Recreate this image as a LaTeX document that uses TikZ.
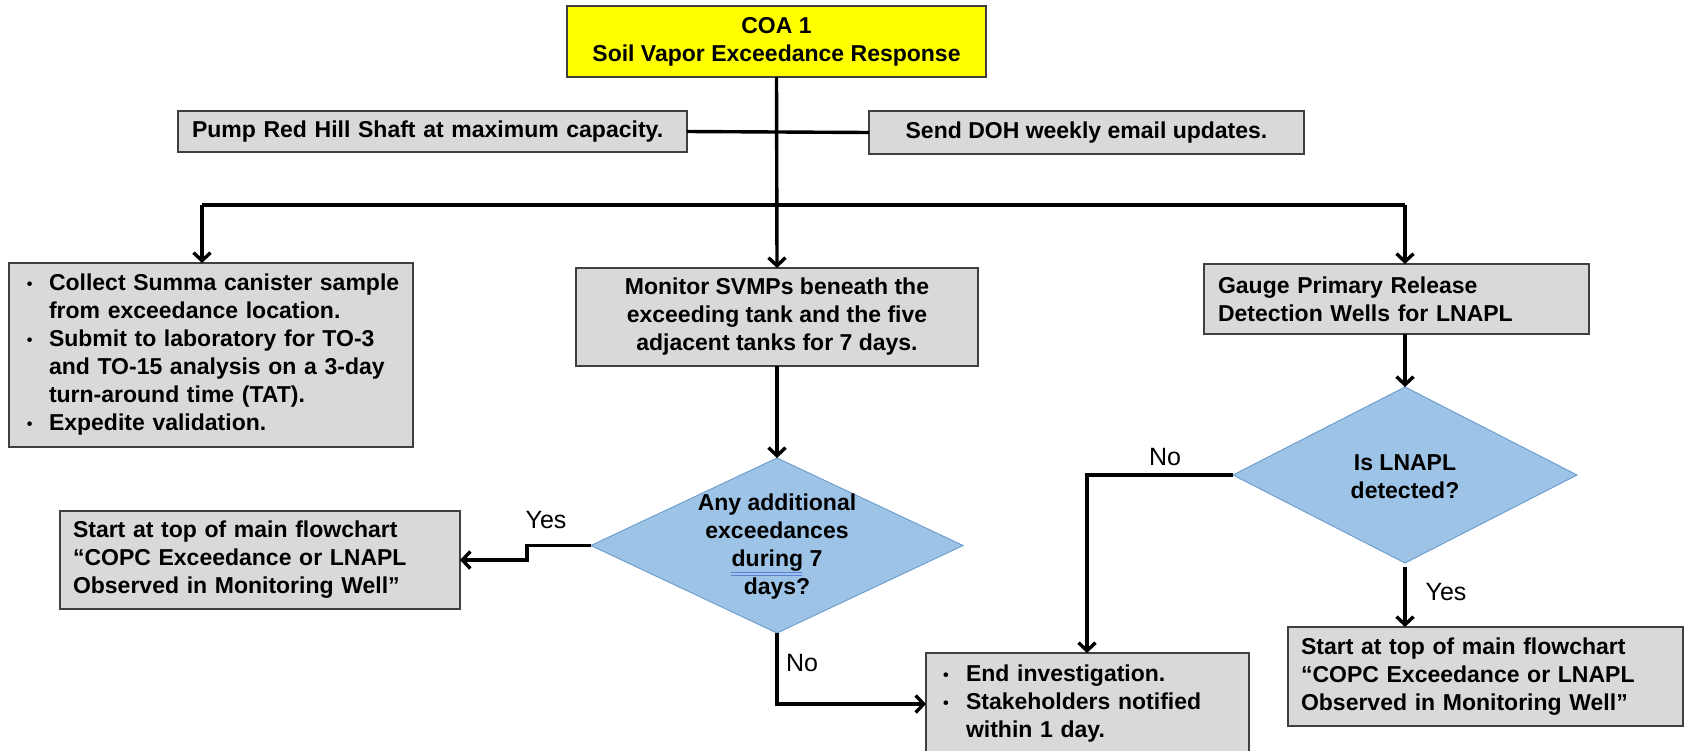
\documentclass[tikz,border=0pt]{standalone}
\usepackage{fontspec}
\usepackage{graphicx}
\setmainfont{Liberation Sans}
\usetikzlibrary{arrows.meta,shapes.geometric,calc}
\definecolor{boxgray}{HTML}{D9D9D9}
\definecolor{boxedge}{HTML}{404040}
\definecolor{dfill}{HTML}{9DC3E6}
\definecolor{dedge}{HTML}{6F9FD0}
\definecolor{coayellow}{HTML}{FFFF00}
\definecolor{squig}{HTML}{5B7FD6}
\newcommand{\bul}{\raisebox{1pt}{\scalebox{0.7}{•}}}
\begin{document}
\begin{tikzpicture}[x=1pt,y=-1pt,
  txt/.style={font=\fontsize{23}{28}\selectfont\bfseries},
  box/.style={txt, draw=boxedge, line width=1.5pt, fill=boxgray, anchor=north west,
    inner ysep=0pt, outer sep=0pt},
  lbox/.style={box, align=left},
  cbox/.style={box, align=center},
  decision/.style={diamond, draw=dedge, line width=1pt, fill=dfill, inner sep=0pt, outer sep=0pt},
  dtext/.style={txt, align=center, inner sep=0pt},
  lab/.style={font=\fontsize{25}{28}\selectfont, inner sep=0pt},
  conn/.style={line width=3.4pt},
  arr/.style={conn, -{Straight Barb[length=8pt,width=17pt]}},
]
\useasboundingbox (0,0) rectangle (1686,750);
\clip (0,0) rectangle (1686,750);

% top box
\node[cbox, fill=coayellow, minimum width=419pt, minimum height=71pt] (coa) at (567,6)
  {COA 1\\Soil Vapor Exceedance Response};

% side boxes
\node[lbox, minimum width=509pt, minimum height=41pt, inner xsep=14pt, text width=481pt] (pump) at (178,111)
  {Pump Red Hill Shaft at maximum capacity.};
\node[cbox, minimum width=435pt, minimum height=43pt] (send) at (869,111)
  {Send DOH weekly email updates.};

% second row
\node[lbox, minimum width=404pt, minimum height=184pt, inner xsep=18pt, text width=368pt] (collect) at (9,263)
  {\begin{tabular}{@{}p{22pt}@{}l@{}}
   \bul&Collect Summa canister sample\\
    &from exceedance location.\\
   \bul&Submit to laboratory for TO-3\\
    &and TO-15 analysis on a 3-day\\
    &turn-around time (TAT).\\
   \bul&Expedite validation.
   \end{tabular}};
\node[cbox, minimum width=402pt, minimum height=98pt] (monitor) at (576,268)
  {Monitor SVMPs beneath the\\exceeding tank and the five\\adjacent tanks for 7 days.};
\node[lbox, minimum width=385pt, minimum height=70pt, inner xsep=14pt, text width=357pt] (gauge) at (1204,264)
  {Gauge Primary Release\\Detection Wells for LNAPL};

% decisions
\node[decision, minimum width=372pt, minimum height=175pt] (d1) at (777,545.5) {};
\node[dtext] (d1t) at (777,547) {Any additional\\exceedances\\during 7\\days?};
\node[decision, minimum width=344pt, minimum height=176pt] (d2) at (1405,475) {};
\node[dtext] (d2t) at (1405,477) {Is LNAPL\\detected?};

% spell-check underline under "during"
\draw[squig, line width=0.9pt] (731,572) -- (802,572);
\draw[squig, line width=0.9pt] (731,575) -- (802,575);

% outcome boxes
\node[lbox, minimum width=400pt, minimum height=98pt, inner xsep=13pt, text width=374pt] (startL) at (60,511)
  {Start at top of main flowchart\\“COPC Exceedance or LNAPL\\Observed in Monitoring Well”};
\node[lbox, minimum width=323pt, minimum height=102pt, inner xsep=17pt, text width=289pt] (endb) at (926,653)
  {\begin{tabular}{@{}p{23pt}@{}l@{}}
   \bul&End investigation.\\
   \bul&Stakeholders notified\\
    &within 1 day.
   \end{tabular}};
\node[lbox, minimum width=395pt, minimum height=99pt, inner xsep=13pt, text width=369pt] (startR) at (1288,627)
  {Start at top of main flowchart\\“COPC Exceedance or LNAPL\\Observed in Monitoring Well”};

% connectors
\coordinate (busL) at (202,205);
\coordinate (busR) at (1405,205);
\coordinate (noK) at (1087,475);

\draw[conn] (pump.east) -- (send.west);
\draw[arr] (coa.south) -- (monitor.north);
\draw[conn] (busL) -- (busR);
\draw[arr] (busL) -- (busL |- collect.north);
\draw[arr] (busR) -- (busR |- gauge.north);
\draw[arr] (monitor.south) -- (d1.north);
\draw[arr] (busR |- gauge.south) -- (d2.north);
\draw[arr] (d1.west) -- ++(-64,0) |- (startL.east);
\draw[arr] (d1.south) |- (endb.west);
\draw[arr] (d2.west) -- (noK) -- (noK |- endb.north);
\draw[arr, shorten <=4pt] (d2.south) -- (d2.south |- startR.north);

% labels
\node[lab] (yes1) at (546,520) {Yes};
\node[lab] (no1) at (802,663) {No};
\node[lab] (no2) at (1165,457) {No};
\node[lab] (yes2) at (1446,592) {Yes};
\end{tikzpicture}
\end{document}
